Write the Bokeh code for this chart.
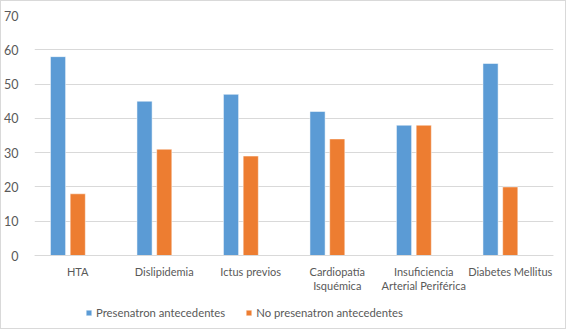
from bokeh.plotting import figure
from bokeh.models import FactorRange, ColumnDataSource, Legend, LegendItem, Range1d
from bokeh.transform import dodge
from bokeh.embed import file_html
from bokeh.resources import INLINE

categories = ["HTA", "Dislipidemia", "Ictus previos", "Cardiopatía\nIsquémica",
              "Insuficiencia\nArterial Periférica", "Diabetes Mellitus"]
presentaron = [58, 45, 47, 42, 38, 56]
no_presentaron = [18, 31, 29, 34, 38, 20]
series_names = ["Presenatron antecedentes", "No presenatron antecedentes"]
y_ticks = [0, 10, 20, 30, 40, 50, 60, 70]

FONT = "Lato"
GREY = "#595959"
BLUE = "#5b9bd5"
ORANGE = "#ed7d31"

# frame: 70 at canvas y=14, 0 at canvas y=254, frame bottom at canvas y=324
px_per_unit = 240 / 70
y_start = 70 - 310 / px_per_unit

src = ColumnDataSource(dict(cat=categories, a=presentaron, b=no_presentaron))

p = figure(x_range=FactorRange(*categories), y_range=Range1d(y_start, 70),
           width=566, height=329, output_backend="svg", toolbar_location=None,
           min_border_left=32, min_border_right=14, min_border_top=14, min_border_bottom=5,
           styles={"border": "1px solid #d9d9d9"})

r1 = p.vbar(x=dodge("cat", -0.228, range=p.x_range), top="a", bottom=0, width=0.175, source=src,
            fill_color=BLUE, line_color="white", line_width=0.5)
r2 = p.vbar(x=dodge("cat", 0.0, range=p.x_range), top="b", bottom=0, width=0.175, source=src,
            fill_color=ORANGE, line_color="white", line_width=0.5)

p.outline_line_color = None
p.xgrid.grid_line_color = None
p.ygrid.grid_line_color = "#d9d9d9"
p.ygrid.grid_line_width = 1
p.yaxis.ticker = y_ticks
p.yaxis.axis_line_color = None
p.yaxis.major_tick_line_color = None
p.yaxis.minor_tick_line_color = None
p.yaxis.major_label_text_font = FONT
p.yaxis.major_label_text_font_size = "12.5px"
p.yaxis.major_label_text_color = GREY
p.yaxis.major_label_standoff = 10

p.xaxis.fixed_location = 0
p.xaxis.axis_line_color = "#d9d9d9"
p.xaxis.major_tick_line_color = None
p.xaxis.minor_tick_line_color = None
p.xaxis.major_label_text_font = FONT
p.xaxis.major_label_text_font_size = "11px"
p.xaxis.major_label_text_color = GREY
p.xaxis.major_label_standoff = 3
p.xaxis.major_label_text_line_height = 1.12

legend = Legend(items=[LegendItem(label=series_names[0], renderers=[r1]),
                       LegendItem(label=series_names[1], renderers=[r2])],
                orientation="horizontal", location=(51, 6),
                glyph_width=7, glyph_height=7, label_height=14, label_standoff=4,
                spacing=20, padding=0, margin=0,
                label_text_font=FONT, label_text_font_size="11.3px",
                label_text_color=GREY, border_line_color=None,
                background_fill_alpha=0)
p.add_layout(legend, "center")

open("out.html", "w").write(file_html(p, INLINE))
